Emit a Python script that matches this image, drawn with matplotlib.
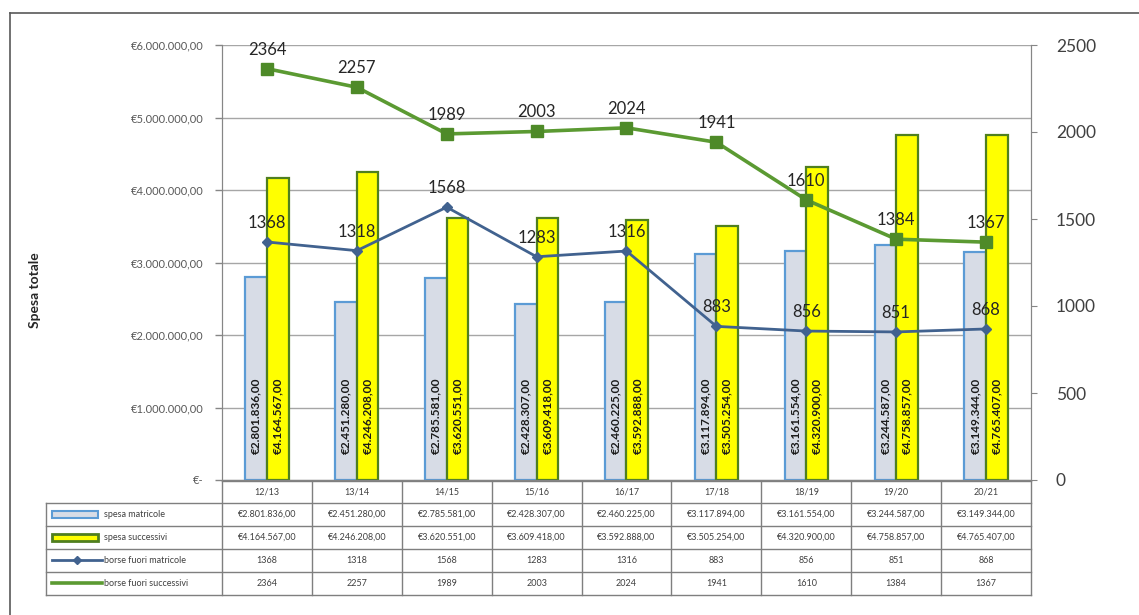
import numpy as np
import matplotlib.pyplot as plt
from matplotlib.patches import Rectangle
from matplotlib.lines import Line2D

plt.rcParams['font.family'] = ['Lato', 'DejaVu Sans']

# data
anni = ['12/13', '13/14', '14/15', '15/16', '16/17', '17/18', '18/19', '19/20', '20/21']
spesa_matricole = [2801836, 2451280, 2785581, 2428307, 2460225, 3117894, 3161554, 3244587, 3149344]
spesa_successivi = [4164567, 4246208, 3620551, 3609418, 3592888, 3505254, 4320900, 4758857, 4765407]
borse_matricole = [1368, 1318, 1568, 1283, 1316, 883, 856, 851, 868]
borse_successivi = [2364, 2257, 1989, 2003, 2024, 1941, 1610, 1384, 1367]
serie = ['spesa matricole', 'spesa successivi', 'borse fuori matricole', 'borse fuori successivi']


def euro(v):
    s = f'{v:,.2f}'.replace(',', 'X').replace('.', ',').replace('X', '.')
    return '€' + s


W, H = 1139, 615
fig = plt.figure(figsize=(W / 100, H / 100), dpi=100)


def box(x0, y0, x1, y1):
    return [x0 / W, 1 - y1 / H, (x1 - x0) / W, (y1 - y0) / H]


# outer frame (left and top only visible)
fig.add_artist(Line2D([10 / W, 10 / W], [0, 1 - 13 / H], color='#595959', lw=1.2))
fig.add_artist(Line2D([10 / W, 1], [1 - 13 / H, 1 - 13 / H], color='#595959', lw=1.2))

ax = fig.add_axes(box(222, 45, 1031, 480))
ax2 = ax.twinx()

x = np.arange(len(anni))
bw = 0.24
ax.bar(x - bw / 2, spesa_matricole, bw, color='#D7DCE6', edgecolor='#5B9BD5', linewidth=1.6, zorder=2)
ax.bar(x + bw / 2, spesa_successivi, bw, color='#FFFF00', edgecolor='#4F7F1F', linewidth=1.6, zorder=2)
for xi, v in zip(x, spesa_matricole):
    ax.text(xi - bw / 2, 0.88e6, euro(v), rotation=90, ha='center', va='center',
            fontsize=8.5, fontweight='bold', color='#1a1a1a', zorder=3)
for xi, v in zip(x, spesa_successivi):
    ax.text(xi + bw / 2, 0.88e6, euro(v), rotation=90, ha='center', va='center',
            fontsize=8.5, fontweight='bold', color='#1a1a1a', zorder=3)

ax.set_xlim(-0.5, len(anni) - 0.5)
ax.set_ylim(0, 6e6)
yt = np.arange(0, 6.1e6, 1e6)
ax.set_yticks(yt)
ax.set_yticklabels(['€-'] + [euro(v) for v in yt[1:]], fontsize=8, color='#595959')
ax.set_xticks([])
ax.grid(axis='y', color='#A6A6A6', lw=1)
ax.set_axisbelow(True)
ax.tick_params(axis='y', length=5, width=1, color='#868686', pad=8)
for s in ['top']:
    ax.spines[s].set_visible(False)
    ax2.spines[s].set_visible(False)
for s in ['left', 'bottom', 'right']:
    ax.spines[s].set_color('#868686')
    ax2.spines[s].set_color('#868686')

ax2.plot(x, borse_successivi, color='#5B9A32', lw=2.6, marker='s', ms=9,
         mfc='#4E8A28', mec='#4E8A28', zorder=4)
ax2.plot(x, borse_matricole, color='#41628F', lw=2, marker='D', ms=5,
         mfc='#41628F', mec='#41628F', zorder=4)
for xi, v in zip(x, borse_successivi):
    ax2.annotate(str(v), (xi, v), xytext=(0, 8), textcoords='offset points',
                 ha='center', va='bottom', fontsize=12, color='#262626')
for xi, v in zip(x, borse_matricole):
    ax2.annotate(str(v), (xi, v), xytext=(0, 8), textcoords='offset points',
                 ha='center', va='bottom', fontsize=12, color='#262626')
ax2.set_ylim(0, 2500)
ax2.set_yticks(np.arange(0, 2501, 500))
ax2.tick_params(axis='y', length=4, color='#868686', labelsize=12.5, labelcolor='#404040', pad=14)

fig.text(35 / W, 1 - 290 / H, 'Spesa totale', rotation=90, ha='center', va='center',
         fontsize=10, fontweight='bold', color='#262626')

# data table under the chart
tx = fig.add_axes(box(0, 478, W, 600))
tx.set_xlim(0, W)
tx.set_ylim(600, 478)
tx.axis('off')
gc = '#7F7F7F'
c0, c1 = 222, 1031
cw = (c1 - c0) / len(anni)
ys = [481, 503, 526, 549, 572, 595]
lx = 46
for i in range(len(anni) + 1):
    xv = c0 + i * cw
    tx.plot([xv, xv], [ys[0], ys[-1]], color=gc, lw=1)
tx.plot([lx, lx], [ys[1], ys[-1]], color=gc, lw=1)
tx.plot([c0, c1], [ys[0], ys[0]], color=gc, lw=1)
for yv in ys[1:]:
    tx.plot([lx, c1], [yv, yv], color=gc, lw=1)
for i, a in enumerate(anni):
    tx.text(c0 + (i + 0.5) * cw, (ys[0] + ys[1]) / 2, a, ha='center', va='center',
            fontsize=6.5, color='#404040')

righe = [[euro(v) for v in spesa_matricole], [euro(v) for v in spesa_successivi],
         [str(v) for v in borse_matricole], [str(v) for v in borse_successivi]]
for r, (nome, vals) in enumerate(zip(serie, righe)):
    yc = (ys[r + 1] + ys[r + 2]) / 2
    for i, t in enumerate(vals):
        tx.text(c0 + (i + 0.5) * cw, yc, t, ha='center', va='center', fontsize=6.5, color='#404040')
    tx.text(104, yc, nome, ha='left', va='center', fontsize=6.5, color='#404040')

# legend keys
y1 = (ys[1] + ys[2]) / 2
tx.add_patch(Rectangle((52, y1 - 3.5), 46, 7, facecolor='#D7DCE6', edgecolor='#5B9BD5', lw=1.5))
y2 = (ys[2] + ys[3]) / 2
tx.add_patch(Rectangle((52, y2 - 3.5), 46, 7, facecolor='#FFFF00', edgecolor='#4F7F1F', lw=2))
y3 = (ys[3] + ys[4]) / 2
tx.plot([52, 102], [y3, y3], color='#41628F', lw=2)
tx.plot([77], [y3], marker='D', ms=4, color='#41628F')
y4 = (ys[4] + ys[5]) / 2
tx.plot([52, 102], [y4, y4], color='#5B9A32', lw=2.6)

fig.savefig('out.png', dpi=100)
